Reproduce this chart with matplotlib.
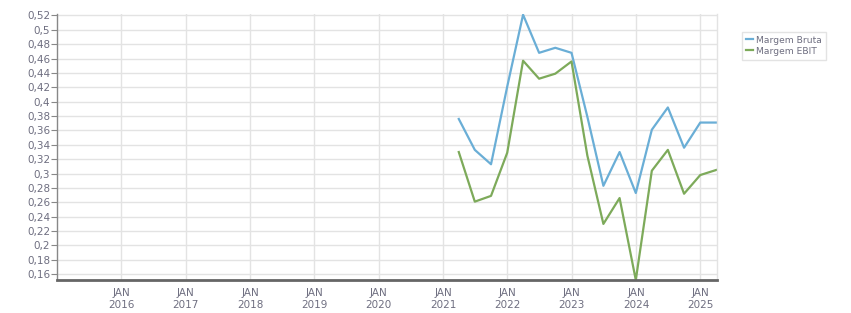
import numpy as np
import pandas as pd
import matplotlib
matplotlib.use('Agg')
import matplotlib.pyplot as plt
import matplotlib.dates as mdates
from matplotlib.ticker import FuncFormatter, MultipleLocator

# Quarterly margins
quarters = pd.date_range('2021-03-31', '2025-03-31', freq='QE')
margem_bruta = [0.376, 0.333, 0.313, 0.421, 0.521, 0.468, 0.475, 0.468,
                0.379, 0.283, 0.330, 0.273, 0.361, 0.392, 0.336, 0.371, 0.371]
margem_ebit = [0.330, 0.261, 0.269, 0.329, 0.457, 0.432, 0.439, 0.456,
               0.325, 0.230, 0.266, 0.152, 0.304, 0.333, 0.272, 0.298, 0.305]
year_ticks = [pd.Timestamp(f'{y}-01-01') for y in range(2016, 2026)]

txt_color = '#6e6e80'
plt.rcParams['font.family'] = 'DejaVu Sans'

fig = plt.figure(figsize=(8.51, 3.13), dpi=100)
ax = fig.add_axes([57 / 851, 33 / 313, 660 / 851, 266 / 313])

ax.plot(quarters, margem_bruta, color='#6aaed6', lw=1.6, label='Margem Bruta')
ax.plot(quarters, margem_ebit, color='#7daa5a', lw=1.6, label='Margem EBIT')

ax.set_xlim(pd.Timestamp('2015-01-01'), pd.Timestamp('2025-04-05'))
ax.set_ylim(0.152, 0.522)

ax.set_xticks(year_ticks)
ax.set_xticklabels([f'JAN\n{d.year}' for d in year_ticks])
ax.yaxis.set_major_locator(MultipleLocator(0.02))
ax.yaxis.set_major_formatter(FuncFormatter(lambda v, p: f'{v:g}'.replace('.', ',')))

ax.grid(True, color='#e3e3e3', lw=1)
ax.set_axisbelow(True)
ax.tick_params(axis='x', length=0, pad=6, labelsize=7.5, colors=txt_color)
ax.tick_params(axis='y', length=4, width=0.8, color='#888888', pad=1,
               labelsize=7.5, labelcolor=txt_color)

ax.spines['top'].set_visible(False)
ax.spines['right'].set_color('#e3e3e3')
ax.spines['right'].set_linewidth(1)
ax.spines['left'].set_color('#888888')
ax.spines['left'].set_linewidth(1)
ax.spines['bottom'].set_color('#666666')
ax.spines['bottom'].set_linewidth(2)

leg = fig.legend(loc='upper left', bbox_to_anchor=(737 / 851, 1 - 27 / 313),
                 fontsize=6.6, frameon=True, fancybox=False, handlelength=0.8,
                 handletextpad=0.3, borderpad=0.45, labelspacing=0.2)
leg.get_frame().set_edgecolor('#dddddd')
leg.get_frame().set_linewidth(1)
for t in leg.get_texts():
    t.set_color(txt_color)

fig.savefig('out.png', dpi=100)
